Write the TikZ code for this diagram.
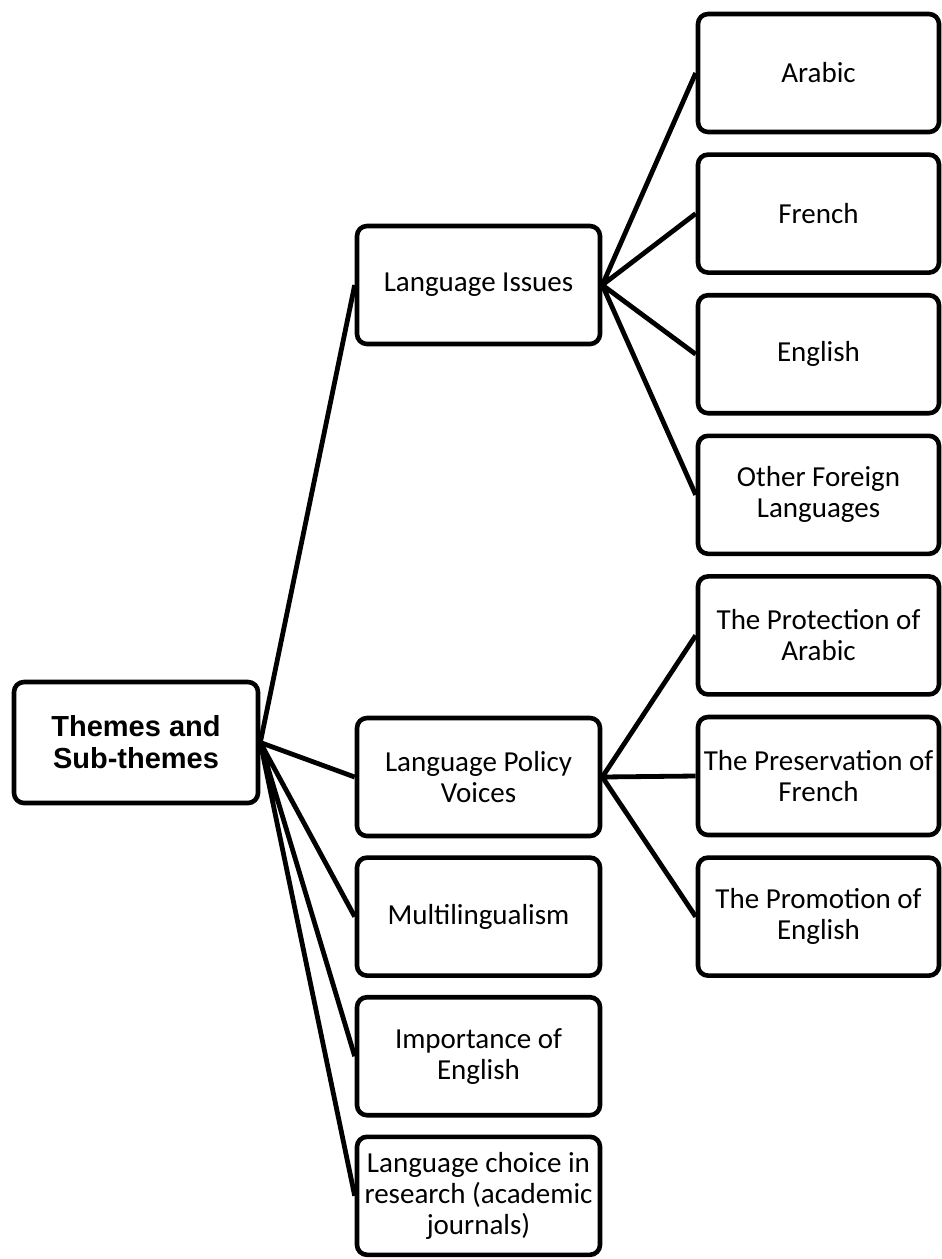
\documentclass[tikz,border=0pt]{standalone}
\usepackage{fontspec}
\setmainfont{Carlito}
\newfontfamily\headfont{Liberation Sans}
\usetikzlibrary{positioning}

\begin{document}
\begin{tikzpicture}[
    x=1pt, y=1pt,
    theme/.style={draw, line width=4.6pt, rounded corners=10pt, inner sep=2pt, minimum width=243pt, minimum height=118pt, align=center, font=\fontsize{29}{31}\selectfont},
    sub/.style={theme, minimum width=241pt},
    link/.style={line width=4.8pt},
    node distance=18pt
]
    \useasboundingbox (0,0) rectangle (942,-1259);

    \node[theme, minimum width=244pt, minimum height=121pt, font=\headfont\bfseries\fontsize{29}{32}\selectfont] (root) at (136,-742.5) {Themes and\\Sub-themes};

    \node[theme] (issues) at (478.5,-285) {Language Issues};
    \node[theme] (policy) at (478.5,-777) {Language Policy\\Voices};
    \node[theme, below=17pt of policy] (multi) {Multilingualism};
    \node[theme, below=17pt of multi] (importance) {Importance of\\English};
    \node[theme, below=17pt of importance] (choice) {Language choice in\\research (academic\\journals)};

    \node[sub] (arabic) at (818.5,-73) {Arabic};
    \node[sub, below=of arabic] (french) {French};
    \node[sub, below=of french] (english) {English};
    \node[sub, below=of english] (other) {Other Foreign\\Languages};
    \node[sub, below=of other] (protect) {The Protection of\\Arabic};
    \node[sub, below=of protect] (preserve) {The Preservation of\\French};
    \node[sub, below=of preserve] (promote) {The Promotion of\\English};

    \draw[link] (root.east) -- (issues.west) (root.east) -- (policy.west) (root.east) -- (multi.west)
        (root.east) -- (importance.west) (root.east) -- (choice.west);
    \draw[link] (issues.east) -- (arabic.west) (issues.east) -- (french.west)
        (issues.east) -- (english.west) (issues.east) -- (other.west);
    \draw[link] (policy.east) -- (protect.west) (policy.east) -- (preserve.west) (policy.east) -- (promote.west);
\end{tikzpicture}
\end{document}
